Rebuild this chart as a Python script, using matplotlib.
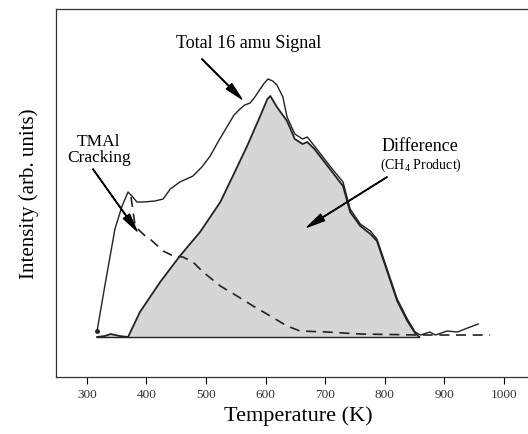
import matplotlib
matplotlib.use("Agg")
import matplotlib.pyplot as plt
import numpy as np

plt.rcParams.update({
    "font.family": ["Liberation Serif", "DejaVu Serif"],
    "mathtext.fontset": "custom",
    "mathtext.rm": "Liberation Serif",
    "mathtext.it": "Liberation Serif:italic",
})

# Total 16 amu signal (temperature K, intensity arb.)
total_T = [317, 330, 347, 359, 369, 377, 384, 394, 414, 428, 440, 456, 478, 493, 507,
           520, 535, 547, 557, 565, 574, 582, 591, 598, 604, 612, 619, 629, 636, 649,
           662, 670, 682, 708, 730, 742, 759, 776, 787, 804, 821, 838, 851, 860, 876,
           885, 905, 922, 939, 957]
total_I = [6, 51, 108, 131, 145, 140, 135, 135, 136, 138, 148, 155, 161, 170, 181,
           195, 210, 222, 228, 232, 234, 240, 248, 254, 258, 256, 252, 240, 220, 203,
           198, 200, 191, 171, 155, 128, 113, 106, 98, 68, 38, 18, 5, 2, 5,
           2, 6, 5, 9, 13]

# Difference (CH4 product)
diff_T = [317, 330, 340, 355, 369, 389, 423, 456, 490, 524, 545, 569, 591, 603,
          608, 619, 636, 649, 662, 670, 682, 708, 730, 742, 759, 776, 787, 804,
          821, 838, 851, 858]
diff_I = [0, 1, 3, 1, 0, 25, 55, 81, 105, 135, 161, 191, 221, 238,
          241, 230, 216, 198, 193, 195, 188, 168, 151, 125, 111, 103, 96, 66,
          36, 16, 4, 0]

# TMAl cracking contribution
crack_T = [374, 381, 389, 398, 406, 428, 445, 461, 478, 495, 524, 552, 579, 608,
           636, 658, 703, 759, 860, 977]
crack_I = [140, 111, 106, 101, 98, 86, 81, 80, 75, 65, 51, 41, 31, 21,
           11, 6, 5, 3, 2, 2]

ticks = [300, 400, 500, 600, 700, 800, 900, 1000]

fig = plt.figure(figsize=(5.28, 4.35), dpi=100)
ax = fig.add_axes([0.106, 0.131, 0.917, 0.846])

ax.fill_between(diff_T, 0, diff_I, color="#d6d6d6", lw=0)
ax.plot(diff_T, diff_I, color="#222222", lw=1.3)
ax.plot([diff_T[0], diff_T[-1]], [0, 0], color="#222222", lw=1.0)
ax.plot(total_T, total_I, color="#222222", lw=1.0)
ax.plot(total_T[0], total_I[0], "o", color="#222222", ms=2.5)
ax.plot(crack_T, crack_I, color="#222222", lw=1.2, ls=(0, (6, 4)))

arrow = dict(width=0.4, headwidth=5.5, headlength=13, facecolor="black",
             edgecolor="black", shrink=0)
ax.text(572, 295, "Total 16 amu Signal", ha="center", va="center", fontsize=13)
ax.annotate("", xy=(560, 238), xytext=(493, 278), arrowprops=arrow)

ax.text(320, 188, "TMAl\nCracking", ha="center", va="center", fontsize=12.5,
        linespacing=0.95)
ax.annotate("", xy=(384, 106), xytext=(310, 168), arrowprops=arrow)

ax.text(860, 192, "Difference", ha="center", va="center", fontsize=13)
ax.text(860, 173, r"(CH$_4$ Product)", ha="center", va="center", fontsize=10)
ax.annotate("", xy=(670, 110), xytext=(804, 160), arrowprops=arrow)

ax.set_xlim(248, 1061)
ax.set_ylim(-40, 328)
ax.set_xticks(ticks)
ax.set_yticks([])
ax.tick_params(axis="x", direction="out", length=5, width=0.8, labelsize=9.5,
               pad=3, labelcolor="#333333")
for s in ax.spines.values():
    s.set_linewidth(0.9)
    s.set_color("#333333")

ax.set_xlabel("Temperature (K)", fontsize=16, labelpad=4)
ax.set_ylabel("Intensity (arb. units)", fontsize=15, labelpad=12)

fig.savefig("out.png", dpi=100)
